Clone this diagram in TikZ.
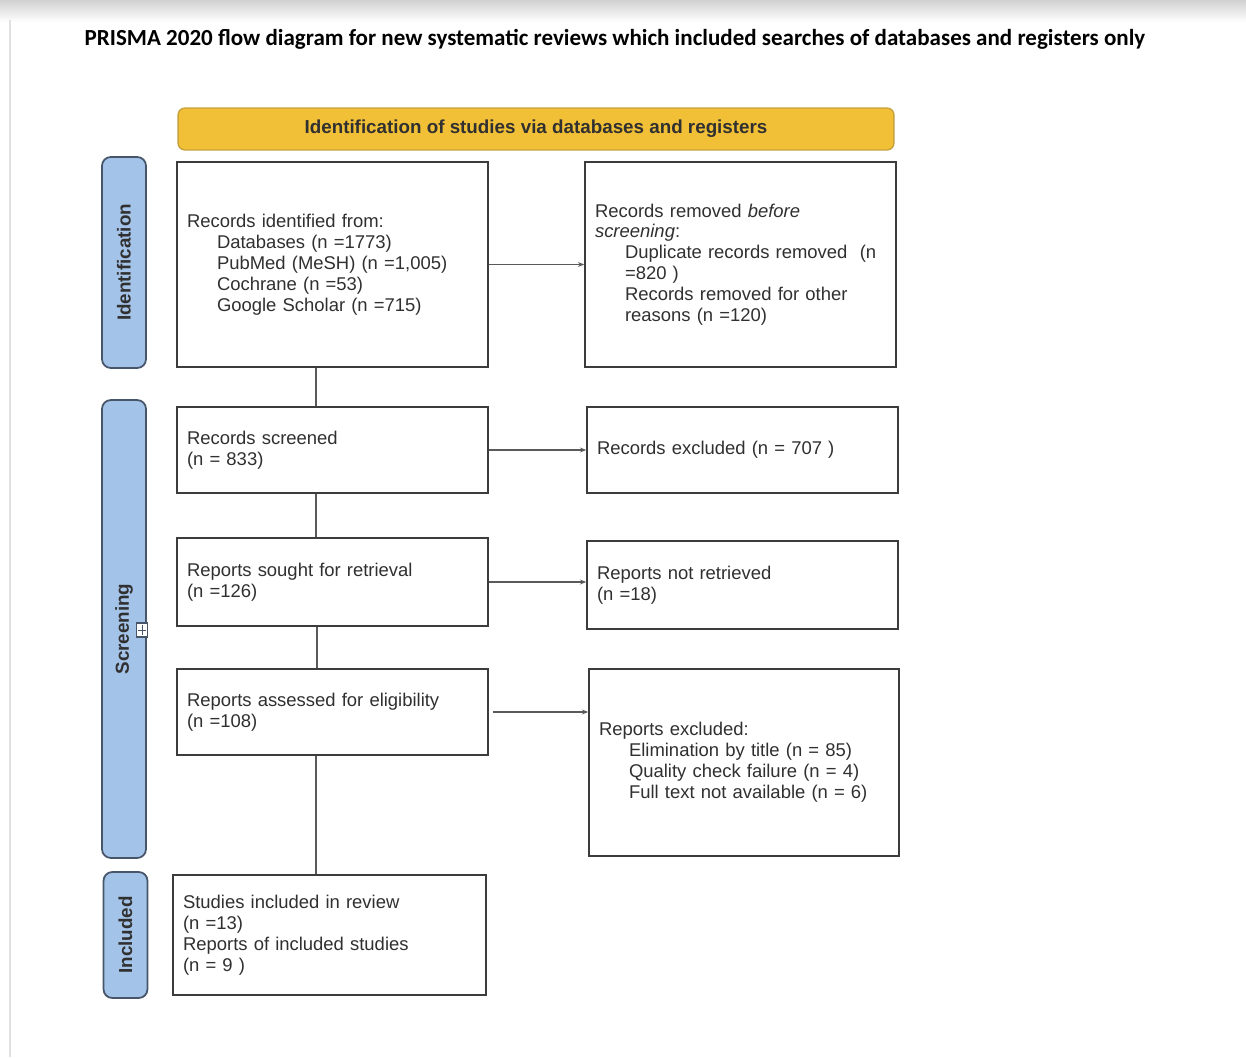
\documentclass[tikz,border=0pt]{standalone}
\usepackage{fontspec}
\setmainfont{Liberation Sans}
\newfontfamily\titlefont{Carlito}
\usetikzlibrary{arrows.meta,calc}
\definecolor{txtc}{RGB}{48,48,48}
\definecolor{boxline}{RGB}{60,60,60}
\definecolor{connc}{RGB}{90,90,90}
\definecolor{hdrfill}{RGB}{242,192,55}
\definecolor{hdrline}{RGB}{200,160,60}
\definecolor{barfill}{RGB}{164,195,232}
\definecolor{barline}{RGB}{70,85,105}
\tikzset{
  pbox/.style={draw=boxline, line width=1pt, fill=white, inner xsep=0.2cm, inner ysep=0pt,
    align=left, text=txtc, font=\fontsize{10.5}{11.9}\selectfont, anchor=center},
  sidebar/.style={draw=barline, line width=1pt, fill=barfill, rounded corners=5pt,
    minimum width=0.88cm, inner sep=0pt},
  barlabel/.style={rotate=90, font=\bfseries\fontsize{10.7}{12}\selectfont, text=txtc},
  hconn/.style={draw=connc, line width=0.6pt, -{Stealth[length=3.5pt,width=2.8pt]}},
  vconn/.style={draw=connc, line width=0.9pt},
}
\newcommand{\ind}{\hspace*{0.6cm}}
\begin{document}
\begin{tikzpicture}[x=0.02cm,y=-0.02cm]
\useasboundingbox (0,0) rectangle (1246,1057);
% screenshot top band
\shade[top color=black!18, bottom color=white] (0,0) rectangle (1246,22);
\draw[black!12, line width=0.8pt] (10,20) -- (10,1057);

% title
\node[font=\titlefont\bfseries\fontsize{13.1}{15}\selectfont, text=black] (title) at (615,39)
  {PRISMA 2020 flow diagram for new systematic reviews which included searches of databases and registers only};

% header
\node[draw=hdrline, line width=0.8pt, fill=hdrfill, rounded corners=4pt, minimum width=14.32cm,
  minimum height=0.84cm, font=\bfseries\fontsize{10.7}{12}\selectfont, text=txtc] (hdr) at (536,129)
  {Identification of studies via databases and registers};

% side bars
\node[sidebar, minimum height=4.22cm] (bid) at (124,262.5) {};
\node[barlabel] (lid) at (bid.center) {Identification};
\node[sidebar, minimum height=9.16cm] (bsc) at (124,629) {};
\node[barlabel] (lsc) at (bsc.center) {Screening};
\node[sidebar, minimum height=2.52cm] (bin) at (125.5,935) {};
\node[barlabel] (lin) at (bin.center) {Included};
% small expand icon
\node[draw=barline, fill=white, line width=0.6pt, minimum width=0.22cm, minimum height=0.28cm, inner sep=0pt] (icon) at (142,630) {};
\draw[barline, line width=0.5pt] ([yshift=-0.05cm]icon.north) -- ([yshift=0.05cm]icon.south)
  ([xshift=0.04cm]icon.west) -- ([xshift=-0.04cm]icon.east);

% boxes
\node[pbox, text width=5.82cm, minimum height=4.10cm] (b1) at (332.5,264.5)
  {Records identified from:\\
   \ind Databases (n =1773)\\
   \ind PubMed (MeSH) (n =1,005)\\
   \ind Cochrane (n =53)\\
   \ind Google Scholar (n =715)};
\node[pbox, text width=5.82cm, minimum height=4.10cm] (b2) at (740.5,264.5)
  {Records removed \emph{before}\\
   \emph{screening}:\\
   \ind Duplicate records removed~ (n\\
   \ind =820 )\\
   \ind Records removed for other\\
   \ind reasons (n =120)};
\node[pbox, text width=5.82cm, minimum height=1.72cm] (b3) at (332.5,450)
  {Records screened\\(n = 833)};
\node[pbox, text width=5.82cm, minimum height=1.72cm] (b4) at (742.5,450)
  {Records excluded (n = 707 )};
\node[pbox, text width=5.82cm, minimum height=1.76cm] (b5) at (332.5,582)
  {Reports sought for retrieval\\(n =126)};
\node[pbox, text width=5.82cm, minimum height=1.76cm] (b6) at (742.5,585)
  {Reports not retrieved\\(n =18)};
\node[pbox, text width=5.82cm, minimum height=1.72cm] (b7) at (332.5,712)
  {Reports assessed for eligibility\\(n =108)};
\node[pbox, text width=5.80cm, minimum height=3.74cm] (b8) at (744,762.5)
  {Reports excluded:\\
   \ind Elimination by title (n = 85)\\
   \ind Quality check failure (n = 4)\\
   \ind Full text not available (n = 6)};
\node[pbox, text width=5.86cm, minimum height=2.40cm] (b9) at (329.5,935)
  {Studies included in review\\(n =13)\\Reports of included studies\\(n = 9 )};

% vertical connectors
\draw[vconn] ([xshift=-0.33cm]b1.south) -- ([xshift=-0.33cm]b3.north);
\draw[vconn] ([xshift=-0.33cm]b3.south) -- ([xshift=-0.33cm]b5.north);
\draw[vconn] ([xshift=-0.31cm]b5.south) -- ([xshift=-0.31cm]b7.north);
\draw[vconn] ([xshift=-0.33cm]b7.south) -- ([xshift=-0.33cm]b7.south |- b9.north);

% horizontal connectors
\draw[hconn] (b1.east) -- (b2.west);
\draw[hconn] (b3.east) -- (b3.east -| b4.west);
\draw[hconn] (b5.east) -- (b5.east -| b6.west);
\draw[hconn] ([xshift=0.08cm]b7.east) -- (b7.east -| b8.west);
\end{tikzpicture}
\end{document}
